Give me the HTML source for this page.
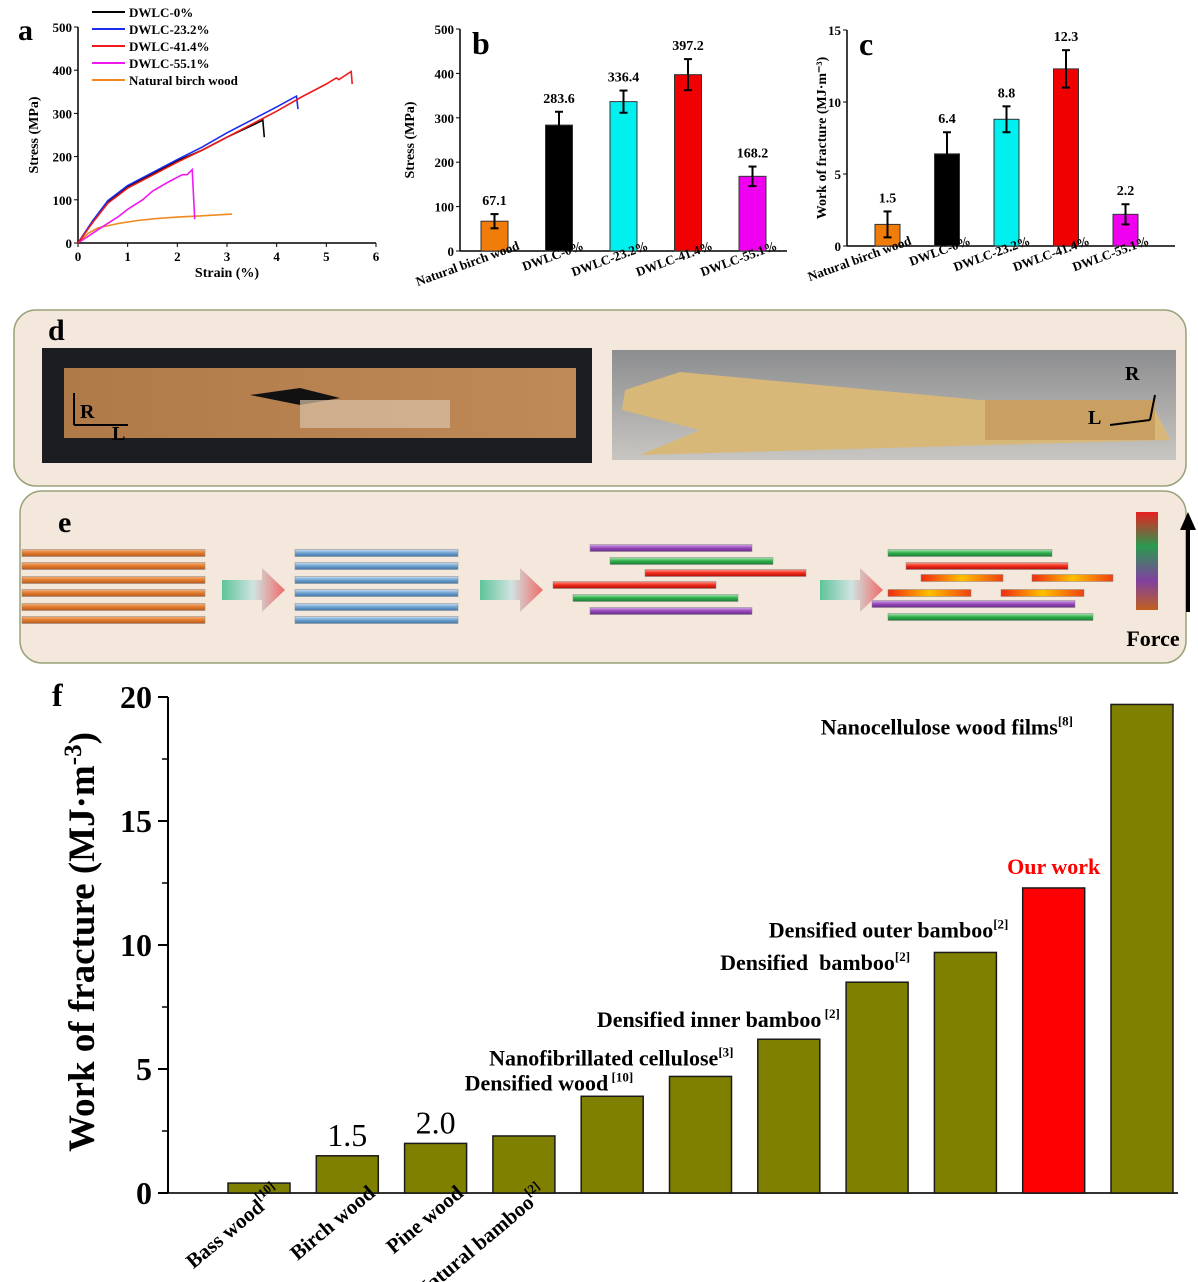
<!DOCTYPE html>
<html><head><meta charset="utf-8">
<style>
html,body{margin:0;padding:0;background:#fff;}
svg{display:block;font-family:"Liberation Serif",serif;}
text{white-space:pre;}
.b{font-weight:bold;}
</style></head>
<body>
<svg id="fig" width="1198" height="1282" viewBox="0 0 1198 1282" xmlns="http://www.w3.org/2000/svg">
<defs>
<linearGradient id="gOr" x1="0" y1="0" x2="0" y2="1"><stop offset="0" stop-color="#f6b27a"/><stop offset="0.5" stop-color="#e07a2e"/><stop offset="1" stop-color="#b85a1a"/></linearGradient>
<linearGradient id="gBl" x1="0" y1="0" x2="0" y2="1"><stop offset="0" stop-color="#c8e0f4"/><stop offset="0.5" stop-color="#6fa2d0"/><stop offset="1" stop-color="#3f76aa"/></linearGradient>
<linearGradient id="gPu" x1="0" y1="0" x2="0" y2="1"><stop offset="0" stop-color="#d7a8e8"/><stop offset="0.5" stop-color="#9548b8"/><stop offset="1" stop-color="#6c2a8c"/></linearGradient>
<linearGradient id="gGr" x1="0" y1="0" x2="0" y2="1"><stop offset="0" stop-color="#a8e8b0"/><stop offset="0.5" stop-color="#2fae4c"/><stop offset="1" stop-color="#1b7a32"/></linearGradient>
<linearGradient id="gRd" x1="0" y1="0" x2="0" y2="1"><stop offset="0" stop-color="#ff9a8a"/><stop offset="0.5" stop-color="#f02a1a"/><stop offset="1" stop-color="#b01008"/></linearGradient>
<linearGradient id="gYe" x1="0" y1="0" x2="1" y2="0"><stop offset="0" stop-color="#f02a10"/><stop offset="0.5" stop-color="#ffc000"/><stop offset="1" stop-color="#f04010"/></linearGradient>
<linearGradient id="gAr" x1="0" y1="0" x2="1" y2="0"><stop offset="0" stop-color="#5ec49a"/><stop offset="0.5" stop-color="#cfe3e0"/><stop offset="1" stop-color="#f06a6a"/></linearGradient>
<linearGradient id="gForce" x1="0" y1="0" x2="0" y2="1"><stop offset="0" stop-color="#e82020"/><stop offset="0.35" stop-color="#2a9a50"/><stop offset="0.7" stop-color="#8040a0"/><stop offset="1" stop-color="#c06020"/></linearGradient>
<linearGradient id="gPhotoL" x1="0" y1="0" x2="1" y2="0"><stop offset="0" stop-color="#b07a48"/><stop offset="1" stop-color="#c08a58"/></linearGradient>
<linearGradient id="gPhotoR" x1="0" y1="0" x2="0" y2="1"><stop offset="0" stop-color="#8c8d8f"/><stop offset="1" stop-color="#c8c6c2"/></linearGradient>
</defs>

<g id="pa"></g>
<g id="pb"></g>
<g id="pc"></g>

<g>
<rect x="14" y="310" width="1172" height="176" rx="22" fill="#f4e7db" stroke="#9aa27a" stroke-width="1.5"/>
<text x="48" y="340" font-size="30" class="b">d</text>
<g>
<rect x="42" y="348" width="550" height="115" fill="#1c1d20"/>
<rect x="64" y="368" width="512" height="70" fill="url(#gPhotoL)"/>
<path d="M250 395 L300 388 L340 398 L300 405 Z" fill="#111"/>
<rect x="300" y="400" width="150" height="28" fill="#d8c2a8" opacity="0.7"/>
<line x1="74" y1="425" x2="74" y2="393" stroke="#000" stroke-width="2"/>
<line x1="74" y1="425" x2="128" y2="425" stroke="#000" stroke-width="2"/>
<text x="80" y="418" font-size="20" class="b" fill="#000">R</text>
<text x="112" y="440" font-size="20" class="b" fill="#000">L</text>
</g>
<g>
<rect x="612" y="350" width="564" height="110" fill="url(#gPhotoR)"/>
<path d="M625 390 L680 372 L980 400 L1150 400 L1170 440 L990 445 L640 455 L700 430 L622 410 Z" fill="#d8b878"/>
<rect x="985" y="400" width="170" height="40" fill="#c9a062"/>
<line x1="1150" y1="420" x2="1155" y2="395" stroke="#000" stroke-width="2"/>
<line x1="1150" y1="420" x2="1110" y2="425" stroke="#000" stroke-width="2"/>
<text x="1125" y="380" font-size="20" class="b">R</text>
<text x="1088" y="424" font-size="20" class="b">L</text>
</g>
</g>

<g id="pe">
<rect x="20" y="491" width="1166" height="172" rx="22" fill="#f4e7db" stroke="#9aa27a" stroke-width="1.5"/>
<text x="58" y="532" font-size="30" class="b">e</text>
<rect x="1136" y="512" width="22" height="98" fill="url(#gForce)"/>
<line x1="1188" y1="612" x2="1188" y2="528" stroke="#000" stroke-width="4"/>
<polygon points="1180,530 1196,530 1188,512" fill="#000"/>
<text x="1153" y="646" font-size="22" class="b" text-anchor="middle">Force</text>
</g>

<g id="pf"></g>
</svg>

<script>
var NS="http://www.w3.org/2000/svg";
function mk(parent,tag,attrs,txt){var e=document.createElementNS(NS,tag);for(var k in attrs)e.setAttribute(k,attrs[k]);if(txt!==undefined)e.textContent=txt;parent.appendChild(e);return e;}

/* ---------- Panel a data ---------- */
var aSeriesNames=["DWLC-0%","DWLC-23.2%","DWLC-41.4%","DWLC-55.1%","Natural birch wood"];
var aColors=["#000000","#1a2cf0","#f01a1a","#f01af0","#f08a20"];
var aStrain0=[0,0.3,0.6,1,1.5,2,2.5,3,3.5,3.7,3.72,3.75];
var aStress0=[0,50,95,130,160,190,215,245,272,283,285,245];
var aStrain1=[0,0.3,0.6,1,1.5,2,2.5,3,3.5,4,4.4,4.43];
var aStress1=[0,52,98,133,163,193,222,255,285,315,340,310];
var aStrain2=[0,0.3,0.6,1,1.5,2,2.5,3,3.5,4,4.5,5,5.2,5.25,5.5,5.52];
var aStress2=[0,48,92,127,157,187,215,245,275,305,338,368,382,378,397,368];
var aStrain3=[0,0.5,0.8,1,1.3,1.5,1.8,2.1,2.2,2.3,2.35];
var aStress3=[0,38,60,78,100,120,140,158,158,170,55];
var aStrain4=[0,0.2,0.4,0.8,1.2,1.6,2,2.5,3.1];
var aStress4=[0,22,35,45,52,57,60,63,67];
var aXTicks=[0,1,2,3,4,5,6];
var aYTicks=[0,100,200,300,400,500];

(function(){
 var g=document.getElementById('pa');
 var x0=78,x1=376,y0=243,y1=27;
 function X(v){return x0+(x1-x0)*v/6;} function Y(v){return y0-(y0-y1)*v/500;}
 mk(g,'line',{x1:x0,y1:y0,x2:x1,y2:y0,stroke:'#000','stroke-width':1.5});
 mk(g,'line',{x1:x0,y1:y0,x2:x0,y2:y1,stroke:'#000','stroke-width':1.5});
 aXTicks.forEach(function(t){mk(g,'line',{x1:X(t),y1:y0,x2:X(t),y2:y0+4,stroke:'#000'});
  var tl=mk(g,'text',{x:X(t),y:y0+18,'font-size':13,'font-weight':'bold','text-anchor':'middle'},String(t));
  
  });
 aYTicks.forEach(function(t){mk(g,'line',{x1:x0-4,y1:Y(t),x2:x0,y2:Y(t),stroke:'#000'});
  var tl=mk(g,'text',{x:x0-6,y:Y(t)+5,'font-size':13,'font-weight':'bold','text-anchor':'end'},String(t));
  
  });
 var xt=mk(g,'text',{x:(x0+x1)/2,y:y0+34,'font-size':14,'font-weight':'bold','text-anchor':'middle'},'Strain (%)');
 
 
 var yt=mk(g,'text',{x:0,y:0,'font-size':14,'font-weight':'bold','text-anchor':'middle',transform:'translate(38,135) rotate(-90)'},'Stress (MPa)');
 
 
 var lbl=mk(g,'text',{x:18,y:40,'font-size':30,'font-weight':'bold'},'a');
 
 
 var xs=[aStrain0,aStrain1,aStrain2,aStrain3,aStrain4],ys=[aStress0,aStress1,aStress2,aStress3,aStress4];
 [4,3,0,1,2].forEach(function(i){
  var d=xs[i].map(function(v,j){return (j?'L':'M')+X(v).toFixed(1)+' '+Y(ys[i][j]).toFixed(1);}).join(' ');
  var p=mk(g,'path',{d:d,fill:'none',stroke:aColors[i],'stroke-width':1.6});
  
  
 });
 aSeriesNames.forEach(function(n,i){var yy=12+i*17;
  mk(g,'line',{x1:92,y1:yy,x2:125,y2:yy,stroke:aColors[i],'stroke-width':2});
  var t=mk(g,'text',{x:129,y:yy+5,'font-size':13,'font-weight':'bold'},n);
  
  });
})();

/* ---------- Panel b / c data ---------- */
var bcCategories=["Natural birch wood","DWLC-0%","DWLC-23.2%","DWLC-41.4%","DWLC-55.1%"];
var bcColors=["#f07c0a","#000000","#00f0f0","#f00000","#f000f0"];
var bStress=[67.1,283.6,336.4,397.2,168.2];
var bErr=[16,30,25,35,22];
var bLabels=["67.1","283.6","336.4","397.2","168.2"];
var bYTicks=[0,100,200,300,400,500];
var cWork=[1.5,6.4,8.8,12.3,2.2];
var cErr=[0.9,1.5,0.9,1.3,0.7];
var cLabels=["1.5","6.4","8.8","12.3","2.2"];
var cYTicks=[0,5,10,15];

function barPanel(g,o){
 function Y(v){return o.y0-(o.y0-o.y1)*v/o.max;}
 mk(g,'line',{x1:o.ax,y1:o.y0,x2:o.xe,y2:o.y0,stroke:'#000','stroke-width':1.5});
 mk(g,'line',{x1:o.ax,y1:o.y0,x2:o.ax,y2:o.y1,stroke:'#000','stroke-width':1.5});
 o.ticks.forEach(function(t){mk(g,'line',{x1:o.ax-4,y1:Y(t),x2:o.ax,y2:Y(t),stroke:'#000'});
  var tl=mk(g,'text',{x:o.ax-6,y:Y(t)+5,'font-size':13,'font-weight':'bold','text-anchor':'end'},String(t));
  
  });
 o.vals.forEach(function(v,i){
  var x=o.bx+i*o.pitch;
  var r=mk(g,'rect',{x:x,y:Y(v),width:o.bw,height:o.y0-Y(v),fill:bcColors[i],stroke:'#333','stroke-width':1});
  
  
  var cx=x+o.bw/2,hi=Y(v+o.err[i]),lo=Y(v-o.err[i]);
  mk(g,'line',{x1:cx,y1:hi,x2:cx,y2:lo,stroke:'#000','stroke-width':2});
  mk(g,'line',{x1:cx-4,y1:hi,x2:cx+4,y2:hi,stroke:'#000','stroke-width':2});
  mk(g,'line',{x1:cx-4,y1:lo,x2:cx+4,y2:lo,stroke:'#000','stroke-width':2});
  var vl=mk(g,'text',{x:cx,y:hi-9,'font-size':14,'font-weight':'bold','text-anchor':'middle'},o.labels[i]);
  
  
  var cl=mk(g,'text',{x:0,y:0,'font-size':13,'font-weight':'bold','text-anchor':'end',transform:'translate('+(cx+o.bw/2+12)+','+(o.y0-2)+') rotate(-20)'},bcCategories[i]);
  
  
 });
 var yt=mk(g,'text',{x:0,y:0,'font-size':14,'font-weight':'bold','text-anchor':'middle',transform:'translate('+o.tx+','+((o.y0+o.y1)/2)+') rotate(-90)'},o.title);
 
 
 var pl=mk(g,'text',{x:o.ax+12,y:o.y1+25,'font-size':32,'font-weight':'bold'},o.letter);
 
 
}
barPanel(document.getElementById('pb'),{id:'b',ax:460,xe:787,y0:251,y1:29,max:500,ticks:bYTicks,vals:bStress,err:bErr,labels:bLabels,bx:481,pitch:64.5,bw:27,tx:414,title:'Stress (MPa)',letter:'b'});
barPanel(document.getElementById('pc'),{id:'c',ax:847,xe:1175,y0:246,y1:30,max:15,ticks:cYTicks,vals:cWork,err:cErr,labels:cLabels,bx:875,pitch:59.5,bw:25,tx:826,title:'Work of fracture (MJ·m⁻³)',letter:'c'});

/* ---------- Panel e rods ---------- */
(function(){
 var g=document.getElementById('pe');
 var ys=[553,566,580,593,607,620];
 function rod(x1,x2,y,fill,name){var r=mk(g,'rect',{x:x1,y:y-3.5,width:x2-x1,height:7,fill:fill,stroke:'#888','stroke-width':0.5});
  
  }
 ys.forEach(function(y){rod(22,205,y,'url(#gOr)','orange-fiber');rod(295,458,y,'url(#gBl)','blue-fiber');});
 [[590,752,548,'gPu'],[610,773,561,'gGr'],[645,806,573,'gRd'],[553,716,585,'gRd'],[573,738,598,'gGr'],[590,752,611,'gPu']].forEach(function(r){rod(r[0],r[1],r[2],'url(#'+r[3]+')','stage3-fiber');});
 [[888,1052,553,'gGr'],[906,1068,566,'gRd'],[921,1003,578,'gYe'],[1032,1113,578,'gYe'],[888,971,593,'gYe'],[1001,1084,593,'gYe'],[872,1075,604,'gPu'],[888,1093,617,'gGr']].forEach(function(r){rod(r[0],r[1],r[2],'url(#'+r[3]+')','stage4-fiber');});
 [222,480,820].forEach(function(x){var a=mk(g,'polygon',{points:(x)+',580 '+(x+40)+',580 '+(x+40)+',568 '+(x+63)+',590 '+(x+40)+',612 '+(x+40)+',600 '+(x)+',600',fill:'url(#gAr)'});
  
  });
})();

/* ---------- Panel f data ---------- */
var fCategories=["Bass wood","Birch wood","Pine wood","Natural bamboo","Densified wood","Nanofibrillated cellulose","Densified inner bamboo","Densified  bamboo","Densified outer bamboo","Our work","Nanocellulose wood films"];
var fRefs=["[10]","","","[2]","[10]","[3]","[2]","[2]","[2]","","[8]"];
var fValues=[0.4,1.5,2.0,2.3,3.9,4.7,6.2,8.5,9.7,12.3,19.7];
var fValueLabels=["","1.5","2.0","","","","","","","",""];
var fYTicks=[0,5,10,15,20];
var fMinorTicks=[2.5,7.5,12.5,17.5];

(function(){
 var g=document.getElementById('pf');
 var ax=168,xe=1178,y0=1193,y1=697,bx=228,pitch=88.3,bw=62;
 function Y(v){return y0-(y0-y1)*v/20;}
 mk(g,'line',{x1:ax,y1:y0,x2:xe,y2:y0,stroke:'#333','stroke-width':2});
 mk(g,'line',{x1:ax,y1:y0,x2:ax,y2:y1,stroke:'#000','stroke-width':2});
 fYTicks.forEach(function(t){mk(g,'line',{x1:ax-10,y1:Y(t),x2:ax,y2:Y(t),stroke:'#000','stroke-width':2});
  var tl=mk(g,'text',{x:ax-16,y:Y(t)+11,'font-size':32,'font-weight':'bold','text-anchor':'end'},String(t));
  
  });
 fMinorTicks.forEach(function(t){mk(g,'line',{x1:ax-6,y1:Y(t),x2:ax,y2:Y(t),stroke:'#000','stroke-width':1.5});});
 var yt=mk(g,'text',{x:0,y:0,'font-size':37,'font-weight':'bold','text-anchor':'middle',transform:'translate(94,942) rotate(-90)'});
 
 
 yt.appendChild(document.createTextNode('Work of fracture (MJ·m'));
 mk(yt,'tspan',{dy:-13,'font-size':25},'-3');
 mk(yt,'tspan',{dy:13},')');
 var pl=mk(g,'text',{x:52,y:706,'font-size':32,'font-weight':'bold'},'f');
 
 
 fValues.forEach(function(v,i){
  var x=bx+i*pitch,cx=x+bw/2,top=Y(v);
  var r=mk(g,'rect',{x:x,y:top,width:bw,height:y0-top,fill:fCategories[i]==='Our work'?'#ff0000':'#808000',stroke:'#1a1a1a','stroke-width':1.5});
  
  
  if(fValueLabels[i]){var vl=mk(g,'text',{x:cx,y:top-10,'font-size':32,'text-anchor':'middle'},fValueLabels[i]);
   
   }
  var t;
  if(i<4){
   t=mk(g,'text',{x:0,y:0,'font-size':21,'font-weight':'bold','text-anchor':'end',transform:'translate('+(x+bw+(fRefs[i]?-8:-2))+','+(y0+2)+') rotate(-40)'},fCategories[i]);
   if(fRefs[i]) mk(t,'tspan',{dy:-10,'font-size':13},fRefs[i]);
  } else {
   var red=fCategories[i]==='Our work';
   t=mk(g,'text',{x:red?cx:x+bw,y:top-12,'font-size':22,'font-weight':'bold','text-anchor':red?'middle':'end',fill:red?'#ff0000':'#000'},fCategories[i]);
   if(i===10){t.setAttribute('x',x-38);t.setAttribute('y',top+30);}
   if(i===5){t.setAttribute('y',top-11);t.setAttribute('x',x+bw+2);}
   if(i===4){t.setAttribute('y',top-6);t.setAttribute('x',x+bw-10);}
   if(i===6){t.setAttribute('y',top-12);t.setAttribute('x',x+bw+20);}
   if(i===7){t.setAttribute('y',top-12);t.setAttribute('x',x+bw+2);}
   if(i===8){t.setAttribute('y',top-15);t.setAttribute('x',x+bw+12);}
   if(i===9){t.setAttribute('y',top-14);}
   if(fRefs[i]) mk(t,'tspan',{dy:-9,'font-size':13},(i===4||i===6?' ':'')+fRefs[i]);
  }
  
  
 });
})();
</script>
</body></html>
